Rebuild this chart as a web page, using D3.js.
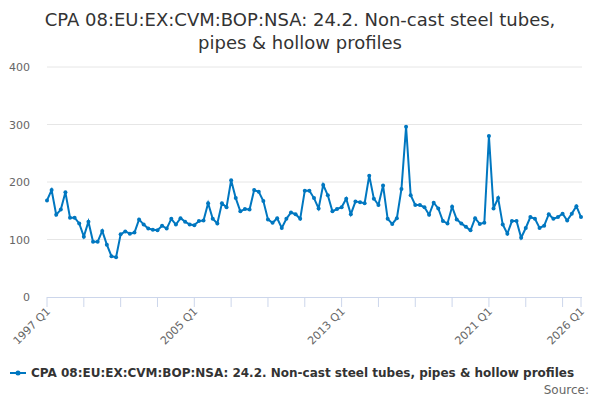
<!DOCTYPE html>
<html><head><meta charset="utf-8">
<script src="https://cdn.jsdelivr.net/npm/d3@7"></script>
<style>body{margin:0;font-family:"DejaVu Sans",sans-serif}</style>
</head><body><svg id="c" width="600" height="400"></svg>
<script>
var seriesName = "CPA 08:EU:EX:CVM:BOP:NSA: 24.2. Non-cast steel tubes, pipes & hollow profiles";
var values = [168,186,143,152,182,138,138,128,105,131, 96,96,115,91,71,69,109,114,110,112,
135,126,119,117,116,124,119,136,126,137, 131,126,125,132,133,163,136,128,163,156,
203,172,149,153,152,186,183,167,135,129, 137,120,136,147,144,136,185,185,
172,154,195,177,149,153,156,171,144,166,165,163,211,171,160,194,136,127,137,188,296,177,160,160,156,143,164,154,132,128,157,135,128,122,116,137,127,129,280,154,172,126,110,132,132,103,120,139,136,120,124,144,136,139,145,133,145,158,139];
var yTicks = [0,100,200,300,400];
var xLabels = ["1997 Q1","2005 Q1","2013 Q1","2021 Q1","2026 Q1"];
var labIdx = [0,32,64,96,116];

var svg = d3.select("#c");
var x = d3.scaleLinear().domain([0, values.length-1]).range([47, 581]);
var y = d3.scaleLinear().domain([0,400]).range([297, 67]);

svg.append("text").attr("x",300).attr("y",26).attr("text-anchor","middle").attr("font-size",18).attr("fill","#333")
  .text("CPA 08:EU:EX:CVM:BOP:NSA: 24.2. Non-cast steel tubes,");
svg.append("text").attr("x",300).attr("y",49).attr("text-anchor","middle").attr("font-size",18).attr("fill","#333")
  .text("pipes & hollow profiles");

yTicks.forEach(function(t){
  if(t>0) svg.append("line").attr("x1",47).attr("x2",582).attr("y1",y(t)).attr("y2",y(t)).attr("stroke","#e6e6e6");
  svg.append("text").attr("x",30).attr("y",y(t)+4).attr("text-anchor","end").attr("font-size",11).attr("fill","#666").text(t);
});
svg.append("line").attr("x1",47).attr("x2",582).attr("y1",297.5).attr("y2",297.5).attr("stroke","#ccd6eb");
for(var q=0;q<values.length;q+=8){
  svg.append("line").attr("x1",x(q)).attr("x2",x(q)).attr("y1",297).attr("y2",307).attr("stroke","#ccd6eb");
}
svg.append("line").attr("x1",x(116)).attr("x2",x(116)).attr("y1",297).attr("y2",307).attr("stroke","#ccd6eb");
labIdx.forEach(function(q,i){
  svg.append("text").attr("transform","translate("+(x(q)+4)+",312) rotate(-45)").attr("text-anchor","end")
    .attr("font-size",11).attr("fill","#666").text(xLabels[i]);
});

var line = d3.line().x(function(d,i){return x(i);}).y(function(d){return y(d);});
svg.append("path").datum(values).attr("d",line).attr("fill","none").attr("stroke","#0077c0").attr("stroke-width",2);
svg.selectAll("circle.p").data(values).enter().append("circle").attr("class","p")
  .attr("cx",function(d,i){return x(i);}).attr("cy",function(d){return y(d);}).attr("r",2).attr("fill","#0077c0");

svg.append("line").attr("x1",10).attr("x2",26).attr("y1",373).attr("y2",373).attr("stroke","#0077c0").attr("stroke-width",2);
svg.append("circle").attr("cx",18).attr("cy",373).attr("r",2.5).attr("fill","#0077c0");
svg.append("text").attr("x",31).attr("y",377).attr("font-size",12).attr("font-weight","bold").attr("fill","#333").text(seriesName);
svg.append("text").attr("x",589).attr("y",394).attr("text-anchor","end").attr("font-size",12).attr("fill","#666").text("Source:");
</script></body></html>
